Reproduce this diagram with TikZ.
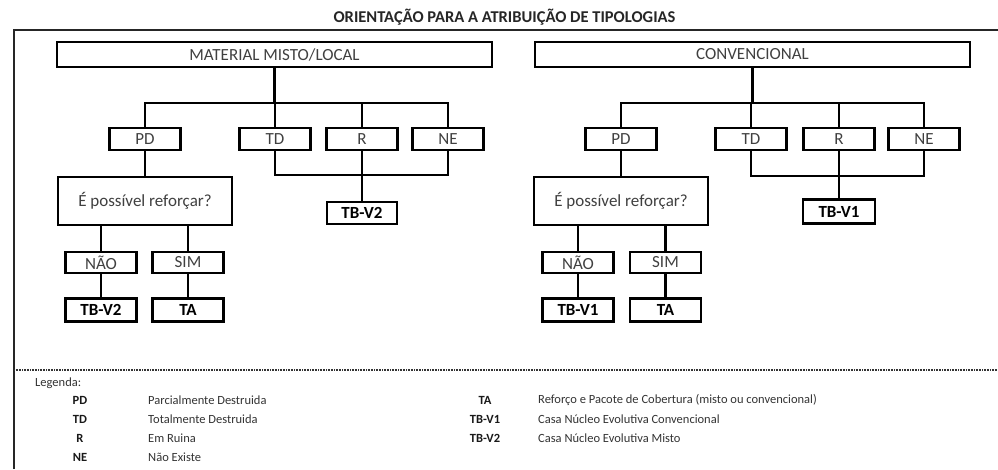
\documentclass[tikz,border=0pt]{standalone}
\usepackage{fontspec}
\setmainfont{Carlito}
\begin{document}
\begin{tikzpicture}[x=1pt,y=-1pt,
  box/.style={draw=black,line width=2.2pt,inner sep=0pt,minimum height=22pt,minimum width=71pt,font=\fontsize{17}{19}\selectfont,text=black!75},
  bbox/.style={box,font=\fontsize{17}{19}\selectfont\bfseries,text=black},
  conn/.style={line width=2.2pt,black},
  lkey/.style={font=\fontsize{12.5}{14}\selectfont\bfseries,text=black!90},
  ldesc/.style={anchor=west,inner sep=0pt,font=\fontsize{12.5}{14}\selectfont,text=black!80}]
\useasboundingbox (0,0) rectangle (998,469);
\fill[white] (0,0) rectangle (998,469);
% title and frame
\node[font=\fontsize{16.5}{18}\selectfont\bfseries,text=black!85] (title) at (504.5,17.5) {ORIENTAÇÃO PARA A ATRIBUIÇÃO DE TIPOLOGIAS};
\draw[line width=2pt,black!85] (14,469) -- (14,30) -- (998,30);
\draw[line width=1.2pt,black!80,dash pattern=on 0.8pt off 0.8pt] (14,370) -- (998,370);
% ---------- left tree ----------
\node[box,minimum width=435pt,minimum height=25pt] (top1) at (274.5,54.5) {MATERIAL MISTO/LOCAL};
\node[box] (PD1) at (145,139) {PD};
\node[box] (TD1) at (275,139) {TD};
\node[box] (R1) at (362,139) {R};
\node[box] (NE1) at (448,139) {NE};
\node[bbox,minimum width=70pt] (TBV2a) at (362,213) {TB-V2};
\node[box,minimum width=174pt,minimum height=48pt] (Q1) at (145,201) {É possível reforçar?};
\node[box,minimum height=21pt] (NAO1) at (101,262.5) {NÃO};
\node[box,minimum height=21pt] (SIM1) at (188,262.5) {SIM};
\node[bbox,minimum height=23pt] (TBV2b) at (101,310) {TB-V2};
\node[bbox,minimum height=23pt] (TA1) at (188,310) {TA};
\coordinate (j1) at (274.5,103);
\coordinate (k1) at (362,175);
\draw[conn] (top1.south) -- (j1);
\draw[conn] (PD1.north) |- (j1) -| (NE1.north);
\draw[conn] (TD1.north) -- (TD1.north |- j1);
\draw[conn] (R1.north) -- (R1.north |- j1);
\draw[conn] (TD1.south) |- (k1) -| (NE1.south);
\draw[conn] (R1.south) -- (TBV2a.north);
\draw[conn] (PD1.south) -- (Q1.north);
\draw[conn] (NAO1.north |- Q1.south) -- (NAO1.north);
\draw[conn] (SIM1.north |- Q1.south) -- (SIM1.north);
\draw[conn] (NAO1.south) -- (TBV2b.north);
\draw[conn] (SIM1.south) -- (TA1.north);
% ---------- right tree ----------
\node[box,minimum width=435pt,minimum height=25pt] (top2) at (752.5,54.5) {CONVENCIONAL};
\node[box] (PD2) at (621,139) {PD};
\node[box] (TD2) at (751,139) {TD};
\node[box] (R2) at (839,139) {R};
\node[box] (NE2) at (924,139) {NE};
\node[bbox,minimum width=72pt,minimum height=24pt] (TBV1a) at (839,211.5) {TB-V1};
\node[box,minimum width=174pt,minimum height=48pt] (Q2) at (621,201) {É possível reforçar?};
\node[box,minimum height=21pt] (NAO2) at (578,262.5) {NÃO};
\node[box,minimum height=21pt] (SIM2) at (665.5,262.5) {SIM};
\node[bbox,minimum height=23pt] (TBV1b) at (578,310) {TB-V1};
\node[bbox,minimum height=23pt] (TA2) at (665.5,310) {TA};
\coordinate (j2) at (752.5,103);
\coordinate (k2) at (839,176);
\draw[conn] (top2.south) -- (j2);
\draw[conn] (PD2.north) |- (j2) -| (NE2.north);
\draw[conn] (TD2.north) -- (TD2.north |- j2);
\draw[conn] (R2.north) -- (R2.north |- j2);
\draw[conn] (TD2.south) |- (k2) -| (NE2.south);
\draw[conn] (R2.south) -- (TBV1a.north);
\draw[conn] (PD2.south) -- (Q2.north);
\draw[conn] (NAO2.north |- Q2.south) -- (NAO2.north);
\draw[conn] (SIM2.north |- Q2.south) -- (SIM2.north);
\draw[conn] (NAO2.south) -- (TBV1b.north);
\draw[conn] (SIM2.south) -- (TA2.north);
% ---------- legend ----------
\node[ldesc] (leg) at (35,383) {Legenda:};
\node[lkey] (kPD) at (80,400) {PD};
\node[lkey] (kTD) at (80,419) {TD};
\node[lkey] (kR) at (80,438) {R};
\node[lkey] (kNE) at (80,457) {NE};
\node[ldesc] (dPD) at (148,400) {Parcialmente Destruida};
\node[ldesc] (dTD) at (148,419) {Totalmente Destruida};
\node[ldesc] (dR) at (148,438) {Em Ruina};
\node[ldesc] (dNE) at (148,457) {Não Existe};
\node[lkey] (kTA) at (485,400) {TA};
\node[lkey] (kTB1) at (485,419) {TB-V1};
\node[lkey] (kTB2) at (485,438) {TB-V2};
\node[ldesc] (dTA) at (538,400) {Reforço e Pacote de Cobertura (misto ou convencional)};
\node[ldesc] (dTB1) at (538,419) {Casa Núcleo Evolutiva Convencional};
\node[ldesc] (dTB2) at (538,438) {Casa Núcleo Evolutiva Misto};
\end{tikzpicture}
\end{document}
